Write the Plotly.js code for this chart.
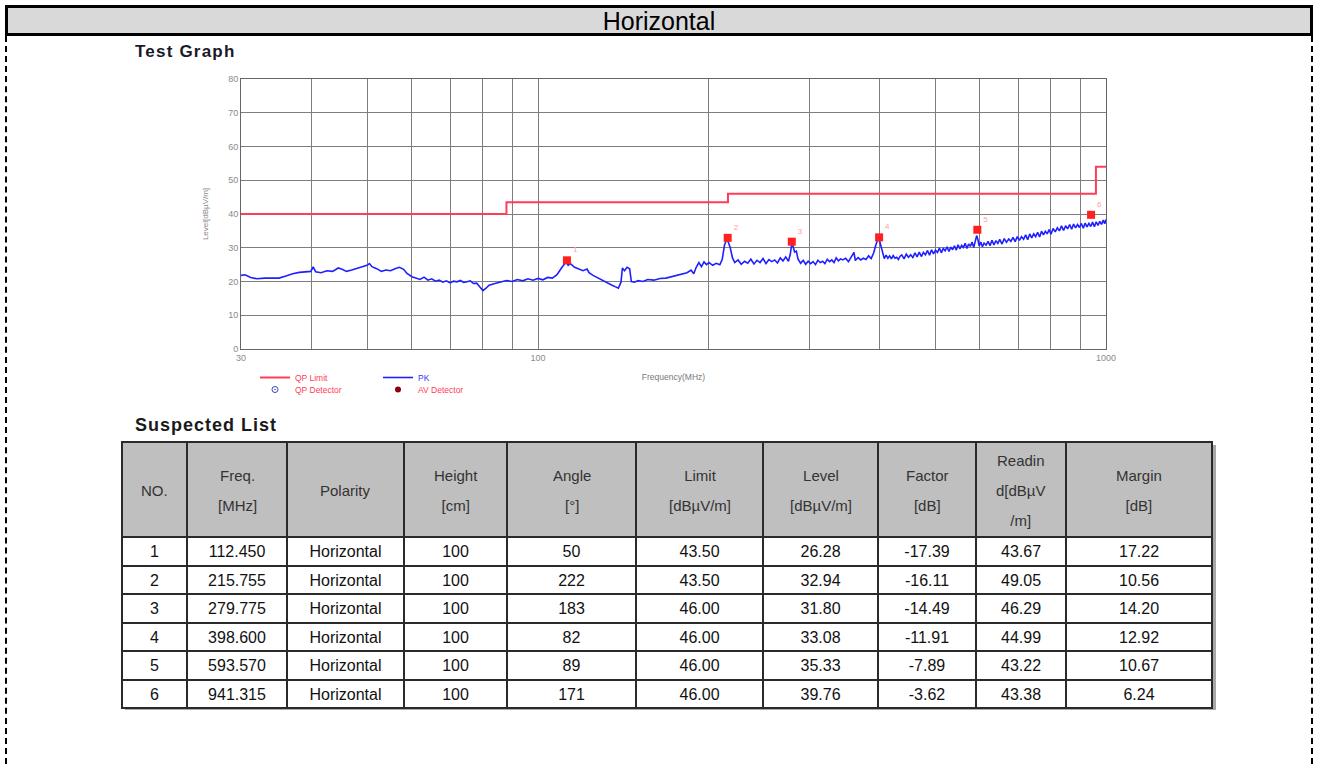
<!DOCTYPE html>
<html><head><meta charset="utf-8">
<script src="https://cdn.plot.ly/plotly-3.0.1.min.js"></script>
<style>
body{margin:0;background:#fff;width:1318px;height:764px;overflow:hidden;position:relative;font-family:Arial,"Liberation Sans",sans-serif;}
#hdr{position:absolute;left:5px;top:5px;width:1302px;height:25px;background:#d9d9d9;border:3px solid #000;text-align:center;font-size:25px;line-height:26px;color:#000;}
.dash{position:absolute;top:36px;height:728px;border-left:2px dashed #000;}
#t1{position:absolute;left:135px;top:42px;font-weight:bold;font-size:17px;letter-spacing:1.2px;color:#1a1a2a;}
#t2{position:absolute;left:135px;top:415px;font-weight:bold;font-size:18px;letter-spacing:1px;color:#1a1a1a;}
#shadow{position:absolute;left:125px;top:445px;width:1091px;height:265px;background:#a8a8a8;}
#plot{position:absolute;left:0;top:0;width:1318px;height:764px;}
</style></head>
<body>
<div id="hdr">Horizontal</div>
<div class="dash" style="left:5px"></div>
<div class="dash" style="left:1311px"></div>
<div id="t1">Test Graph</div>
<div id="t2">Suspected List</div>
<div id="shadow"></div>
<div id="plot"></div>
<script>
// ---- PK trace ----
const pkFreq = [
30.0,30.5,31.2,32.0,33.0,34.0,35.0,36.0,37.0,38.0,
39.0,39.8,40.2,40.6,41.5,42.5,43.5,44.5,45.2,46.0,
47.0,48.0,49.0,50.0,50.5,51.0,52.0,53.0,54.0,55.0,
56.0,57.0,58.0,58.8,60.0,61.0,62.0,63.0,64.0,65.0,
66.0,67.0,68.0,69.0,70.0,71.0,72.0,73.0,74.0,75.0,
76.0,77.0,78.0,79.0,80.0,81.0,82.0,84.0,86.0,88.0,
90.0,92.0,94.0,96.0,98.0,100.0,102,104,106,108,
110,112,113,114,116,118,120,122,123,125,
127,129,131,133,135,137,138.5,140,140.8,142,
143.5,145,146,148,150,153,156,160,164,168,
172,176,180,183,186,188,190,192,194,196,
198,200,203,206,209,211,213,215,216.5,218,
220,222,225,228,231,234,237,240,243,246,
249,252,255,258,261,264,267,270,273,276,
278,280,281.5,283,285,287,290,293,296,299,
302,305,308,311,314,317,320,323,326,329,
332,335,338,341,344,348,352,356,360,362,
366,370,374,378,382,386,390,393,396,398.6,
401,404,407,410,413,416,419,422,425,428,
431,434,437,441,445,449,453,457,461,465,
469,473,477,481,485,489,493,497,501,505,
509,513,517,521,525,529,533,537,541,545,
549,553,557,561,565,569,573,577,581,585,
589,592,595,598,602,606,610,615,620,625,
630,635,640,645,650,656,662,668,674,680,
686,692,698,704,710,716,722,728,734,740,
746,752,758,764,770,776,782,788,794,800,
807,814,821,828,835,842,849,856,863,870,
877,884,891,898,905,912,919,926,933,940,
947,954,961,968,975,982,989,995,1000
];
const pkLevel = [
21.8,22.0,21.2,20.8,21.0,21.1,21.0,21.6,22.3,22.7,
22.8,23.0,24.3,22.9,22.6,23.2,23.0,24.0,23.6,23.0,
23.4,23.8,24.2,24.8,25.3,24.4,23.8,23.0,23.4,23.2,
23.8,24.2,23.6,22.4,21.4,21.0,20.6,21.3,20.4,20.8,
20.1,20.4,19.8,20.2,19.6,20.1,19.9,20.3,19.7,19.9,
20.2,19.4,19.5,18.4,17.3,18.0,18.9,19.4,19.8,20.3,
20.0,20.6,20.2,20.8,20.4,20.9,20.5,21.2,21.0,22.0,
24.0,25.8,24.8,25.3,24.2,23.8,23.2,23.7,22.6,21.8,
21.2,20.4,20.0,19.4,18.9,18.4,18.0,19.8,24.0,23.2,
24.2,23.8,20.0,19.8,20.3,20.0,20.6,20.4,20.9,21.0,
21.4,21.8,22.2,22.6,23.4,22.3,24.3,25.6,24.4,25.8,
25.0,25.6,24.8,25.4,25.0,26.5,30.8,32.6,31.5,30.0,
27.0,25.6,26.4,25.1,26.0,25.4,26.6,25.2,26.3,25.6,
26.8,25.3,26.5,25.9,26.4,25.5,27.0,26.1,27.3,26.0,
28.0,31.5,30.2,28.7,29.0,26.6,25.4,26.3,25.1,26.0,
25.3,25.9,25.0,26.3,25.6,26.0,25.3,26.6,25.9,26.4,
25.6,27.0,26.1,26.7,26.4,26.9,25.9,27.2,28.6,26.2,
27.1,26.4,26.9,26.5,27.6,26.8,28.5,30.6,32.2,32.6,
31.0,28.2,26.8,27.8,26.9,27.6,26.7,27.7,26.9,27.2,
26.5,27.5,27.9,26.7,28.1,27.2,27.9,27.1,28.5,27.3,
28.7,27.4,28.6,27.9,29.2,27.8,29.4,28.2,29.3,28.6,
29.9,28.5,29.8,29.1,30.3,28.9,30.2,29.4,30.6,29.3,
30.9,29.7,30.7,30.1,31.3,29.8,31.1,30.4,31.7,30.1,
32.1,33.6,32.4,30.5,31.7,30.3,31.4,30.8,31.9,30.6,
32.2,30.8,32.1,31.3,32.5,31.1,32.7,31.6,32.6,31.9,
33.1,31.8,33.3,32.2,33.3,32.5,33.8,32.4,34.1,32.9,
34.1,33.3,34.6,33.2,34.9,33.8,34.9,34.1,35.4,34.0,
35.7,34.7,35.9,35.0,36.5,35.1,36.5,35.6,36.9,35.5,
37.0,35.9,36.9,36.0,37.2,35.8,37.3,36.2,37.2,36.3,
37.6,36.2,37.7,36.6,37.8,36.9,38.2,37.1,38.4
];
// ---- QP limit ----
const limitFreq = [30, 88, 88, 216, 216, 960, 960, 1000];
const limitLevel = [40, 40, 43.5, 43.5, 46, 46, 54, 54];
// ---- Suspected list ----
const no = [1, 2, 3, 4, 5, 6];
const freq = [112.450, 215.755, 279.775, 398.600, 593.570, 941.315];
const polarity = ['Horizontal','Horizontal','Horizontal','Horizontal','Horizontal','Horizontal'];
const heightCm = [100, 100, 100, 100, 100, 100];
const angle = [50, 222, 183, 82, 89, 171];
const limit = [43.50, 43.50, 46.00, 46.00, 46.00, 46.00];
const level = [26.28, 32.94, 31.80, 33.08, 35.33, 39.76];
const factor = [-17.39, -16.11, -14.49, -11.91, -7.89, -3.62];
const reading = [43.67, 49.05, 46.29, 44.99, 43.22, 43.38];
const margin = [17.22, 10.56, 14.20, 12.92, 10.67, 6.24];
const headers = [['NO.'], ['Freq.','[MHz]'], ['Polarity'], ['Height','[cm]'], ['Angle','[°]'],
  ['Limit','[dBµV/m]'], ['Level','[dBµV/m]'], ['Factor','[dB]'], ['Readin','d[dBµV','/m]'], ['Margin','[dB]']];
// ---- axis ticks ----
const xTickVals = [30,40,50,60,70,80,90,100,200,300,400,500,600,700,800,900,1000];
const xTickText = ['30','','','','','','','100','','','','','','','','','1000'];
const yTickVals = [0,10,20,30,40,50,60,70,80];

const W = 1318, H = 764;
const f2 = v => v.toFixed(2);
const FONT = 'Arial, "Liberation Sans", sans-serif';

// table geometry
const colW = [65,100,117,103,129,127,115,98,90,146];
const tblLeft = 122, tblTop = 442, hdrH = 95, rowH = 28.5;
const tblWidth = colW.reduce((a,b)=>a+b, 0);

const traces = [
  {x: limitFreq, y: limitLevel, type:'scatter', mode:'lines', name:'<span style="color:#ff3c5a">QP Limit</span>',
   line:{color:'#ff3c5a', width:2}, legend:'legend', hoverinfo:'skip'},
  {x: pkFreq, y: pkLevel, type:'scatter', mode:'lines', name:'<span style="color:#3333ff">PK</span>',
   line:{color:'#2020ff', width:1.6}, legend:'legend', hoverinfo:'skip'},
  {x:[null], y:[null], type:'scatter', mode:'markers', name:'<span style="color:#ff3c5a">QP Detector</span>',
   marker:{symbol:'circle-open-dot', color:'#3344bb', size:6}, legend:'legend2'},
  {x:[null], y:[null], type:'scatter', mode:'markers', name:'<span style="color:#ff3c5a">AV Detector</span>',
   marker:{symbol:'circle', color:'#8b0010', size:6}, legend:'legend2'},
  {x: freq, y: level, type:'scatter', mode:'markers+text', showlegend:false,
   marker:{symbol:'square', color:'#ff2020', size:8},
   text: no.map(String), textposition:'top right', textfont:{size:8, color:'#ffa0a0', family:FONT}},
  {type:'table', domain:{x:[tblLeft/W, (tblLeft+tblWidth)/W], y:[1-(tblTop+hdrH+6*rowH+6)/H, 1-tblTop/H]},
   columnwidth: colW,
   header:{values: headers.map(()=>''), align:'center', height:hdrH,
     fill:{color:'#bfbfbf'}, line:{color:'#2a2a2a', width:2},
     font:{family:FONT, size:15, color:'#333'}},
   cells:{values:[no, freq.map(v=>v.toFixed(3)), polarity, heightCm, angle, limit.map(f2), level.map(f2), factor.map(f2), reading.map(f2), margin.map(f2)],
     align:'center', height:rowH,
     fill:{color:'#ffffff'}, line:{color:'#2a2a2a', width:2},
     font:{family:FONT, size:16, color:'#111'}}}
];

// header texts, centred in each header cell
let acc = tblLeft;
const annotations = headers.map((lines, i) => {
  const cx = acc + colW[i]/2; acc += colW[i];
  return {xref:'paper', yref:'paper', x: cx/W, y: 1-(tblTop+hdrH/2+1)/H, xanchor:'center', yanchor:'middle',
    showarrow:false, align:'center', font:{family:FONT, size:23, color:'#333'},
    text: lines.map(t => '<span style="font-size:15px">'+t+'</span>').join('<br>')};
});

const axisCommon = {showgrid:true, gridcolor:'#7d7d7d', gridwidth:1, showline:true, mirror:true,
  linecolor:'#666', linewidth:1, ticks:'', zeroline:false, automargin:false, fixedrange:true,
  tickfont:{family:FONT, size:9, color:'#8a8a8a'}};

const layout = {
  width:W, height:H, margin:{l:0, r:0, t:0, b:0},
  paper_bgcolor:'rgba(0,0,0,0)', plot_bgcolor:'#ffffff',
  font:{family:FONT, size:9, color:'#888'},
  showlegend:true,
  annotations: annotations,
  xaxis: Object.assign({}, axisCommon, {type:'log', domain:[241/W, 1106/W], range:[Math.log10(30), 3],
    tickmode:'array', tickvals:xTickVals, ticktext:xTickText,
    title:{text:'Frequency(MHz)', font:{family:FONT, size:8.5, color:'#777'}, standoff:12}}),
  yaxis: Object.assign({}, axisCommon, {domain:[1-349/H, 1-79/H], range:[0, 80],
    tickmode:'array', tickvals:yTickVals,
    title:{text:'Level[dBµV/m]', font:{family:FONT, size:8, color:'#888'}, standoff:18}}),
  legend:{orientation:'h', x:255/W, y:1-363/H, xanchor:'left', yanchor:'top', font:{family:FONT, size:8.5},
    entrywidth:78, bgcolor:'rgba(0,0,0,0)', itemwidth:30},
  legend2:{orientation:'h', x:255/W, y:1-375/H, xanchor:'left', yanchor:'top', font:{family:FONT, size:8.5},
    entrywidth:78, bgcolor:'rgba(0,0,0,0)', itemwidth:30}
};

Plotly.newPlot('plot', traces, layout, {staticPlot:true, displayModeBar:false});
</script>
</body></html>
